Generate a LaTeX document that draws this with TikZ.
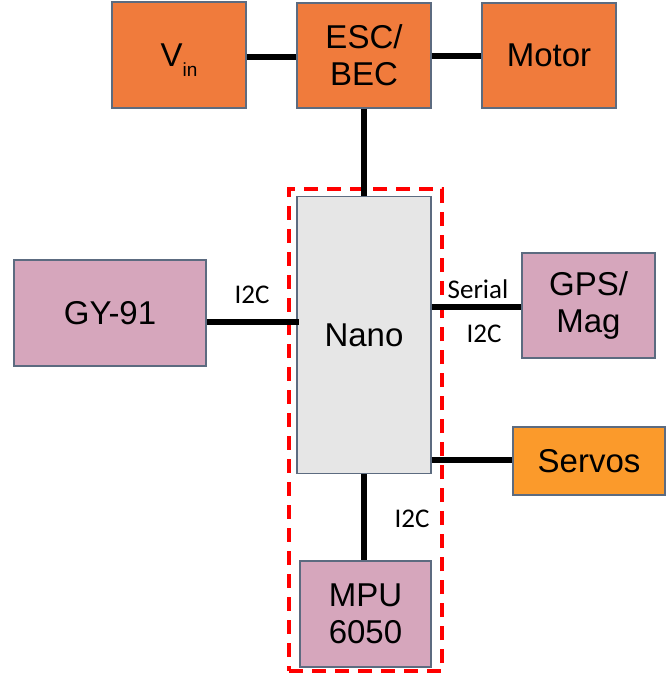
\documentclass[tikz,border=0pt]{standalone}
\usepackage{fontspec}
\setmainfont{Liberation Sans}
\newfontfamily\labfont{Carlito}
\definecolor{orA}{HTML}{F07B3C}
\definecolor{orB}{HTML}{FB9A2B}
\definecolor{pinkB}{HTML}{D6A6BC}
\definecolor{grayB}{HTML}{E6E6E6}
\definecolor{edgeB}{HTML}{5C6B80}
\definecolor{redD}{HTML}{FF0000}
\begin{document}
\begin{tikzpicture}[x=1pt,y=-1pt,
  blk/.style={draw=edgeB,line width=1.2pt,inner sep=0pt,align=center,font=\fontsize{33}{37}\selectfont},
  wire/.style={line width=5.5pt,black},
  lab/.style={font=\labfont\fontsize{27}{30}\selectfont,inner sep=0pt}]
\useasboundingbox (0,0) rectangle (670,677);
% dashed enclosure
\node[draw=redD,line width=3.2pt,dash pattern=on 14pt off 9pt,minimum width=153pt,minimum height=482pt,inner sep=0pt] (encl) at (365.5,430) {};
% blocks
\node[blk,fill=orA,minimum width=134pt,minimum height=106pt] (vin) at (179,55) {V\smash{\raisebox{-0.6ex}{\fontsize{19}{20}\selectfont in}}};
\node[blk,fill=orA,minimum width=134pt,minimum height=105pt] (esc) at (364,55.5) {ESC/\\[0pt]BEC};
\node[blk,fill=orA,minimum width=134pt,minimum height=105pt] (motor) at (549,55.5) {Motor};
\node[blk,fill=grayB,minimum width=134pt,minimum height=277pt] (nano) at (364,335) {Nano};
\node[blk,fill=pinkB,minimum width=192pt,minimum height=106pt] (gy) at (110,313) {GY-91};
\node[blk,fill=pinkB,minimum width=133pt,minimum height=105pt] (gps) at (588.5,305.5) {GPS/\\[0pt]Mag};
\node[blk,fill=orB,minimum width=152pt,minimum height=68pt] (servo) at (589,461) {Servos};
\node[blk,fill=pinkB,minimum width=131pt,minimum height=106pt] (mpu) at (365.5,614) {MPU\\[0pt]6050};
% connectors
\draw[wire] (vin.east |- 0,57) -- (esc.west |- 0,57);
\draw[wire] (esc.east |- 0,56) -- (motor.west |- 0,56);
\draw[wire] (esc.south) -- (nano.north);
\coordinate (gyend) at ([xshift=3pt]nano.west |- 0,322);
\draw[wire] (gy.east |- 0,322) -- (gyend);
\draw[wire] (nano.east |- 0,307) -- (gps.west |- 0,307);
\draw[wire] (nano.east |- 0,460) -- (servo.west |- 0,460);
\draw[wire] (nano.south) -- (nano.south |- mpu.north);
% labels
\node[lab] (l1) at (252,295) {I2C};
\node[lab] (l2) at (478,289) {Serial};
\node[lab] (l3) at (484,334) {I2C};
\node[lab] (l4) at (412,519) {I2C};
\end{tikzpicture}
\end{document}
